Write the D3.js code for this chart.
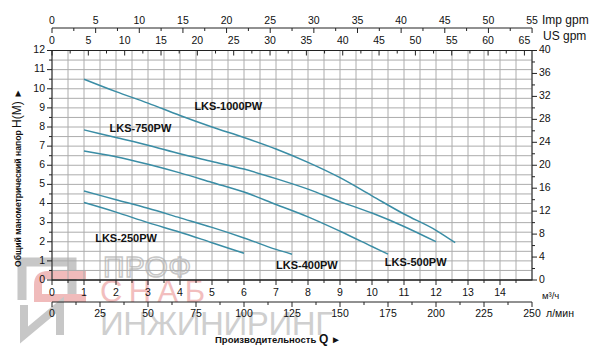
<!DOCTYPE html>
<html><head><meta charset="utf-8">
<script src="https://cdn.jsdelivr.net/npm/d3@7"></script>
<style>
html,body{margin:0;padding:0;background:#fff;}
text{font-family:"Liberation Sans",Arial,sans-serif;fill:#111;}
</style></head>
<body><svg id="c" width="600" height="351"></svg>
<script>
// ---- data (x: m³/h, y: H in m) ----
const series = ["LKS-1000PW","LKS-750PW","LKS-500PW","LKS-400PW","LKS-250PW"];
const q1000 = [1,2,3,4,5,6,7,8,9,10,11,12,12.6];
const h1000 = [10.5,9.85,9.25,8.6,8.0,7.45,6.85,6.15,5.35,4.4,3.45,2.6,1.95];
const q750 = [1,2,3,4,5,6,7,8,9,10,11,12];
const h750 = [7.85,7.45,7.05,6.6,6.2,5.8,5.3,4.75,4.1,3.5,2.8,2.0];
const q500 = [1,2,3,4,5,6,7,8,9,10,10.5];
const h500 = [6.75,6.45,6.05,5.6,5.1,4.6,3.95,3.3,2.55,1.75,1.35];
const q400 = [1,2,3,4,5,6,7,7.5];
const h400 = [4.65,4.2,3.75,3.25,2.75,2.2,1.6,1.35];
const q250 = [1,2,3,4,5,6];
const h250 = [4.05,3.55,3.0,2.5,1.95,1.4];
const labelPos = [[4.45,9.05],[1.8,7.9],[10.4,0.9],[7.0,0.75],[1.35,2.15]]; // label anchor in data units
// axis ticks
const m3Ticks = [0,1,2,3,4,5,6,7,8,9,10,11,12,13,14];
const lminTicks = [0,25,50,75,100,125,150,175,200,225,250];
const impTicks = [0,5,10,15,20,25,30,35,40,45,50,55];
const usTicks = [0,5,10,15,20,25,30,35,40,45,50,55,60,65];
const hTicks = [0,1,2,3,4,5,6,7,8,9,10,11,12];
const ftTicks = [0,4,8,12,16,20,24,28,32,36,40];

const svg = d3.select("#c");
const x = d3.scaleLinear().domain([0,15]).range([52,532]);
const y = d3.scaleLinear().domain([0,12]).range([280,50.5]);
const xl = d3.scaleLinear().domain([0,250]).range([52,532]);
const xi = d3.scaleLinear().domain([0,15/0.272765]).range([52,532]);
const xu = d3.scaleLinear().domain([0,15/0.227125]).range([52,532]);
const yf = d3.scaleLinear().domain([0,40]).range([280,50.5]);

// watermark (behind)
const wm = svg.append("g").attr("opacity",0.55);
wm.append("path").attr("d","M22,300 L22,262 L72,262 L72,300").attr("fill","none").attr("stroke","#9a9a9a").attr("stroke-width",9);
wm.append("path").attr("d","M86,275 L48,275 Q38,275 38,285 L38,298 L86,298").attr("fill","none").attr("stroke","#e58585").attr("stroke-width",8);
wm.append("path").attr("d","M24,305 L24,335 L60,305 L60,335").attr("fill","none").attr("stroke","#9a9a9a").attr("stroke-width",8);
wm.append("text").attr("x",103).attr("y",277).attr("font-size",30).attr("textLength",88)
  .style("fill","none").style("stroke","#9a9a9a").style("stroke-width",1.5).text("ПРОФ");
wm.append("text").attr("x",100).attr("y",302).attr("font-size",31).attr("textLength",105)
  .style("fill","#e88a8a").text("СНАБ");
wm.append("text").attr("x",100).attr("y",335).attr("font-size",33).attr("textLength",233)
  .style("fill","#a8a8a8").text("ИНЖИНИРИНГ");

// grid
const g = svg.append("g");
d3.range(0,15.01,0.5).forEach(v=>{
  g.append("line").attr("x1",x(v)).attr("x2",x(v)).attr("y1",y(0)).attr("y2",y(12))
   .attr("stroke","#acacac").attr("stroke-width",1);
});
d3.range(0,12.01,0.5).forEach(v=>{
  g.append("line").attr("x1",x(0)).attr("x2",x(15)).attr("y1",y(v)).attr("y2",y(v))
   .attr("stroke","#acacac").attr("stroke-width",1);
});
// frame
const ax = svg.append("g").attr("stroke","#222").attr("stroke-width",1).attr("fill","none");
ax.append("rect").attr("x",x(0)).attr("y",y(12)).attr("width",x(15)-x(0)).attr("height",y(0)-y(12));

function hTicksDraw(scale, vals, minor, yy, dir, lab, labY){
  ax.append("line").attr("x1",scale.range()[0]).attr("x2",scale.range()[1]).attr("y1",yy).attr("y2",yy);
  minor.forEach(v=>ax.append("line").attr("x1",scale(v)).attr("x2",scale(v)).attr("y1",yy).attr("y2",yy+dir*3));
  vals.forEach(v=>{
    ax.append("line").attr("x1",scale(v)).attr("x2",scale(v)).attr("y1",yy).attr("y2",yy+dir*5);
    if(lab) svg.append("text").attr("x",scale(v)).attr("y",labY).attr("text-anchor","middle")
      .attr("font-size",10.5).attr("dominant-baseline","middle").text(v);
  });
}
hTicksDraw(x, m3Ticks, d3.range(0.5,15,1), y(0), 1, true, 293);
hTicksDraw(xl, lminTicks, d3.range(12.5,250,25), 302, 1, true, 314);
hTicksDraw(xi, impTicks, d3.range(2.5,55,5), 28, 1, true, 21);
hTicksDraw(xu, usTicks, d3.range(2.5,66,5), y(12), 1, true, 41);

function vTicksDraw(scale, vals, minor, xx, dir, anchor, labX){
  minor.forEach(v=>ax.append("line").attr("y1",scale(v)).attr("y2",scale(v)).attr("x1",xx).attr("x2",xx+dir*3));
  vals.forEach(v=>{
    ax.append("line").attr("y1",scale(v)).attr("y2",scale(v)).attr("x1",xx).attr("x2",xx+dir*5);
    svg.append("text").attr("x",labX).attr("y",scale(v)).attr("text-anchor",anchor)
      .attr("font-size",10.5).attr("dominant-baseline","middle").text(v);
  });
}
vTicksDraw(y, hTicks, d3.range(0.5,12,1), x(0), -1, "end", 45);
vTicksDraw(yf, ftTicks, d3.range(2,40,4), x(15), 1, "start", 539);

// unit labels
svg.append("text").attr("x",542).attr("y",21).attr("font-size",12).attr("dominant-baseline","middle").text("Imp gpm");
svg.append("text").attr("x",543).attr("y",37).attr("font-size",12).attr("dominant-baseline","middle").text("US gpm");
svg.append("text").attr("x",542).attr("y",296).attr("font-size",9.5).attr("dominant-baseline","middle").text("м³/ч");
svg.append("text").attr("x",546).attr("y",314).attr("font-size",10.5).attr("dominant-baseline","middle").text("л/мин");
const bt = svg.append("text").attr("x",215).attr("y",343).attr("font-weight","bold").attr("font-size",9.5);
bt.append("tspan").text("Производительность ");
bt.append("tspan").attr("font-size",12).text("Q");
bt.append("tspan").attr("font-size",10).text("  ►");
const lt = svg.append("text").attr("transform","translate(21,267) rotate(-90)").attr("font-weight","bold").attr("font-size",8.6);
lt.append("tspan").text("Общий манометрический напор ");
lt.append("tspan").attr("font-size",12).attr("font-weight","normal").text("H(M)");
lt.append("tspan").attr("font-size",10).text("  ►");

// curves
const data = [[q1000,h1000],[q750,h750],[q500,h500],[q400,h400],[q250,h250]];
const line = d3.line().x(d=>x(d[0])).y(d=>y(d[1])).curve(d3.curveMonotoneX);
data.forEach((s,i)=>{
  const pts = s[0].map((q,j)=>[q,s[1][j]]);
  svg.append("path").attr("d",line(pts)).attr("fill","none").attr("stroke","#3a8da5").attr("stroke-width",1.5);
  svg.append("text").attr("x",x(labelPos[i][0])).attr("y",y(labelPos[i][1]))
    .attr("font-size",11).attr("font-weight","bold").attr("dominant-baseline","middle").text(series[i]);
});
</script></body></html>
